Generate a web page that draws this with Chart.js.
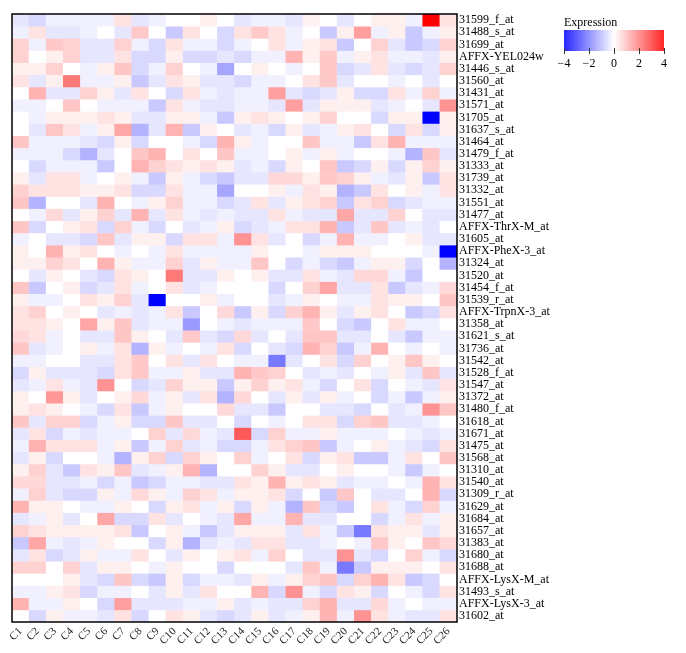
<!DOCTYPE html>
<html>
<head>
<meta charset="utf-8">
<script src="https://cdn.jsdelivr.net/npm/chart.js@4.4.1/dist/chart.umd.min.js"></script>
<style>
  body { margin: 0; background: #fff; }
  #wrap { width: 686px; height: 653px; position: relative; }
</style>
</head>
<body>
<div id="wrap"><canvas id="graph"></canvas></div>
<script>
// column names (samples)
const colNames = ['C1','C2','C3','C4','C5','C6','C7','C8','C9','C10','C11','C12','C13',
  'C14','C15','C16','C17','C18','C19','C20','C21','C22','C23','C24','C25','C26'];

// row names (probes), top to bottom
const rowNames = ['31599_f_at','31488_s_at','31699_at','AFFX-YEL024w','31446_s_at','31560_at',
  '31431_at','31571_at','31705_at','31637_s_at','31464_at','31479_f_at','31333_at','31739_at',
  '31332_at','31551_at','31477_at','AFFX-ThrX-M_at','31605_at','AFFX-PheX-3_at','31324_at',
  '31520_at','31454_f_at','31539_r_at','AFFX-TrpnX-3_at','31358_at','31621_s_at','31736_at',
  '31542_at','31528_f_at','31547_at','31372_at','31480_f_at','31618_at','31671_at','31475_at',
  '31568_at','31310_at','31540_at','31309_r_at','31629_at','31684_at','31657_at','31383_at',
  '31680_at','31688_at','AFFX-LysX-M_at','31493_s_at','AFFX-LysX-3_at','31602_at'];

// expression values, one row per probe, one value per column
const values = [
  [-0.4,-0.6,-0.24,-0.24,-0.24,-0.24,0.45,-0.4,-0.24,0,0,0.24,0,-0.4,-0.24,-0.24,-0.4,0.2,0,-0.4,0,0.24,0.24,-0.24,4,0.45],
  [-0.24,0.45,-0.4,-0.4,-0.24,0,-0.4,0.85,0,-0.85,0.45,0,-0.6,0.45,0.85,0.45,-0.24,0,-0.85,0.24,1.5,-0.24,0.24,-0.85,-0.24,0.24],
  [0.7,-0.24,0.85,0.7,-0.4,-0.4,0.7,-0.24,-0.6,0.45,-0.24,-0.24,-0.6,-0.24,0,0.45,-0.24,0.24,0.45,-0.85,0,0.7,-0.4,-0.85,-0.6,0.7],
  [0.7,0,0.24,0.7,-0.4,-0.4,0.45,-0.6,-0.6,0.24,-0.6,-0.6,-0.4,-0.6,-0.24,-0.24,1.2,0.24,0.85,-0.24,0.24,0.45,-0.24,-0.24,-0.4,0.24],
  [0.24,0.24,0.7,0,-0.24,0.24,0.9,-0.6,-0.24,0.7,0,-0.24,-1.4,0,0.24,0,-0.24,0,0.85,-0.6,-0.4,0.45,-0.4,-0.6,-0.4,0.7],
  [0.45,-0.4,0.24,2.1,-0.24,-0.24,0.24,-0.85,-0.4,0.45,0.24,-0.4,-0.4,-0.6,-0.24,-0.24,0,0.45,0.85,-0.4,0,0,-0.24,0,-0.4,0],
  [0,1.2,-0.4,-0.4,0.7,0.24,-0.4,0.45,0,-0.6,0.45,-0.24,-0.4,-0.24,-0.24,1.5,-0.4,-0.6,-0.4,0.24,-0.6,-0.6,0.45,-0.24,0.7,-0.24],
  [-0.24,-0.24,0,0.9,0,-0.24,-0.24,-0.24,-0.85,0.45,-0.24,-0.4,-0.4,-0.24,-0.24,-0.4,1.5,-0.4,0.24,0.24,0.24,-0.4,-0.24,0,-0.4,1.7],
  [0,-0.24,0.24,0.24,0.24,0.45,0.24,-0.4,-0.4,0.24,0.24,-0.24,-0.85,0.24,0.45,0.24,0,0.24,0.7,0,0,-0.6,0.24,0.24,-4,0.24],
  [0,-0.4,0.9,0.45,-0.24,0.24,1.4,-1.2,-0.4,1.2,-0.85,0.24,0,-0.4,-0.24,-0.6,0.24,-0.4,-0.24,0.24,0.45,0,-0.6,0.45,-0.6,0.24],
  [0.9,-0.24,-0.24,-0.24,-0.4,-0.6,0.24,-0.6,0,0,-0.24,-0.6,1.2,0.24,-0.24,0,0,0.9,-0.24,-0.24,-0.85,0.45,1.2,-0.24,-0.24,-0.24],
  [-0.24,-0.24,-0.24,-0.6,-1.2,-0.4,0,0.9,1.2,0,0.45,0,0.9,-0.24,-0.24,0,0.24,-0.24,0.24,-0.24,0,0,-0.24,-1.2,0.9,-0.4],
  [0,-0.6,-0.24,-0.24,-0.24,-0.85,0,1.2,0.7,0.45,0.24,0.45,0.24,-0.4,-0.24,-0.6,0.24,0,0.9,-0.85,-0.6,0.24,-0.6,0.24,0.7,0.24],
  [0.24,-0.4,0.45,0.45,-0.24,0,0.24,-0.24,-0.85,0.24,-0.24,-0.6,-0.85,-0.4,-0.4,0.6,0.6,0.24,0.85,0.7,0.24,-0.24,-0.4,0.24,-0.85,0.45],
  [0.7,0.45,0.45,0.45,0.24,0.24,0.45,-0.6,-0.6,0.45,-0.24,-0.24,-1.4,0,0,0.24,-0.24,0.45,0.24,-1.2,-0.85,0.45,0,0.24,-0.24,0.45],
  [0.9,-1.2,0,0,-0.4,1.2,0,-0.24,0.24,0.7,-0.24,-0.24,-0.6,-0.4,0.45,-0.4,0.24,0.45,0.7,-0.85,0.45,0.7,-0.6,-0.4,-0.24,-0.24],
  [0,-0.24,0.6,-0.4,0.24,0.7,-0.4,1.2,-0.4,0.45,-0.24,-0.4,-0.24,-0.4,-0.4,0.45,-0.24,-0.4,-0.4,1.4,-0.4,-0.4,0.7,0,-0.4,-0.4],
  [0.9,-0.6,0,0.24,0.45,-0.6,0.7,-0.24,-0.6,0,-0.4,-0.24,0.24,-0.6,-0.4,-0.24,0.45,0.45,1.2,-0.85,-0.4,0.9,-0.4,-0.24,-0.4,0],
  [-0.24,0,-0.4,-0.4,-0.6,0.9,-0.4,0.24,0.24,-0.6,0.45,0.45,-0.24,1.7,0.45,-0.4,0,-0.6,-0.24,1.2,-0.24,-0.24,0,0.24,-0.4,-0.4],
  [0.24,0,1.2,0.24,0.45,0,-0.24,0,-0.24,0.45,-0.24,-0.24,-0.24,-0.24,0.24,0,0,-0.24,0.24,0.24,0.24,0,0,0,-0.24,-4],
  [0.24,0.24,0.7,0.45,0,1.2,0.24,-0.24,-0.24,0.7,-0.4,0.24,-0.24,-0.24,0.9,0,-0.6,-0.24,-0.6,-0.85,-0.24,0.24,0.24,-0.6,0,-1.2],
  [0,-0.4,0.24,0,-0.4,-0.6,0.45,0.24,0,2.1,-0.4,-0.4,0.24,0,0.24,-0.4,-0.4,0.45,-0.24,-0.4,0.6,0.6,-0.24,-0.85,0,0],
  [0.9,-0.85,0,0.24,-0.6,-0.4,0.45,-0.24,0,0.45,-0.4,-0.24,0,0,0,-0.6,0,0.7,1.4,-0.4,-0.4,0.45,-0.85,-0.4,-0.24,0.6],
  [0.24,-0.24,-0.24,0,0.45,0.24,0.7,-0.4,-4,0,0,0.24,-0.24,0,0,-0.4,-0.24,0.24,0,-0.24,-0.24,0.45,0.24,0.24,0,0.9],
  [0.45,0.7,0,0.24,0,-0.4,-0.24,-0.4,-0.24,0.45,-0.85,0,0.6,-0.85,0.24,-0.6,0.7,1.2,0.24,-0.4,0.24,0.45,0,-0.85,-0.6,0.45],
  [0.45,0.45,0.24,0,1.4,0.24,0.9,-0.4,-0.24,-0.24,-1.6,0,-0.24,-0.4,-0.24,-0.24,-0.24,0.85,0,-0.6,-0.85,0,0.45,-0.24,-0.24,0],
  [0.6,0.45,-0.24,0,-0.4,-0.4,0.9,0.24,0,-0.4,0.85,-0.4,-0.6,0.6,-0.4,0,-0.4,0.9,0.9,-0.4,-0.4,0,-0.4,-0.85,-0.24,-0.24],
  [0.9,-0.4,-0.24,0,0.24,-0.24,0.45,-1.2,0.24,-0.24,0,-0.24,0.45,-0.6,0,-0.4,-0.6,1.2,0.7,-0.85,-0.24,1.2,0,-0.24,0,-0.24],
  [-0.24,-0.24,0,0,-0.4,-0.4,0.45,0.85,0,0.45,-0.4,0.45,0,-0.24,-0.24,-2.1,-0.4,0,0.45,-0.6,0.7,0,0.24,0.9,0.24,0],
  [-0.6,0.24,-0.4,-0.4,-0.4,-0.6,0.45,0.85,-0.24,-0.24,0.24,-0.4,-0.4,1.2,0.85,0.7,0,-0.4,-0.24,-0.4,0,-0.24,0.24,-0.4,0.9,-0.4],
  [-0.4,-0.24,0.45,-0.24,-0.4,1.7,0,-0.6,-0.4,0.7,0.24,0.24,-0.85,0.24,0.7,0.24,0.45,-0.24,-0.6,0,0.45,-0.6,0,-0.24,-0.4,0.45],
  [0.24,0,1.6,0.24,-0.4,0,0.24,0.6,-0.24,0.24,-0.4,0.45,-1.2,0.6,0,-0.4,0.24,-0.4,0.24,-0.24,0,-0.6,-0.24,-0.85,-0.24,0.24],
  [0.24,0.45,0.24,0,-0.24,-0.6,0.45,-0.85,-0.24,0.24,0,0,0.6,-0.4,-0.4,-0.85,0,0,-0.4,-0.4,-0.6,0,-0.4,-0.24,1.7,0.9],
  [0.9,-0.4,0.7,0.7,-0.6,-0.24,0.24,-0.6,-0.6,0.9,-0.4,-0.4,0,-0.6,0,-0.24,0,0.45,0.45,-0.6,0.7,0.9,-0.4,-0.4,-0.24,0],
  [-0.4,0.45,-0.6,-0.24,-0.4,-0.24,-0.24,0,0.7,-0.4,0.6,-0.24,-0.4,2.6,-0.6,0.7,-0.24,-0.24,0.24,-0.24,-0.24,-0.24,0,-0.24,-0.4,-0.24],
  [-0.24,1.2,0.45,0.45,0.45,-0.24,0.24,-0.85,-0.24,0.7,-0.4,-0.24,-0.6,-0.6,-0.24,0.45,0.7,0.9,-0.85,-0.24,0,0.24,-0.24,-0.4,-0.6,0.45],
  [-0.4,0.24,-0.6,0,0,-0.24,-1.2,0.24,0.7,-0.6,0.7,0.24,0,0.7,-0.24,0,0.45,-0.6,0.24,0.45,-0.85,-0.85,-0.24,0.45,0,0.9],
  [0.24,0.7,-0.4,-0.85,0.45,0.24,0.9,-0.4,-0.24,0.24,1.2,-1.2,0,0,0.7,0.24,-0.4,-0.4,0,0.24,0,0,-0.24,-0.85,-0.24,0],
  [0.6,0.6,-0.4,-0.4,-0.24,-0.6,-0.24,-0.85,-0.6,-0.24,-0.24,-0.4,-0.4,0.45,0.24,1.2,0.24,0.45,0.24,-0.4,-0.24,-0.24,0,-0.24,1.2,0.45],
  [-0.24,0.7,-0.4,-0.6,-0.6,0.24,-0.24,0.6,0.24,-0.24,0.7,0.45,-0.24,0.24,0.24,0.45,-0.6,0,-0.85,0.9,0,-0.4,-0.4,0,1.2,-0.6],
  [1.2,0.24,0.24,0,-0.24,-0.24,0.24,0,-0.6,0.24,0.45,-0.24,0.24,-0.6,0.24,-0.24,-1.2,0.9,-0.6,-0.85,0,0.45,-0.24,-0.6,0.7,-0.24],
  [-0.4,-0.24,0.24,-0.4,0,1.4,-0.6,-0.6,0.45,-0.4,0,-0.24,-0.4,1.4,-0.24,-0.24,1.2,-0.4,-0.4,0,0,-0.6,-0.24,0.45,-0.24,0.24],
  [0.7,0.45,0.24,0.24,0.24,0.24,0.45,-0.85,0,0.24,-0.24,-0.85,-0.4,0.24,0.24,0.24,-0.4,0.45,-0.24,-0.85,-2.1,0.45,0.24,0.24,-0.4,0.24],
  [-0.85,1.4,-0.24,-0.4,-0.24,0.24,0,0,-0.6,0.24,-1.2,-0.4,-0.24,-0.4,0.45,0.45,-0.4,-0.4,-0.24,0,-0.24,0.85,0.24,0,0.9,0.6],
  [-0.4,0.45,-0.6,-0.4,0.24,-0.24,-0.24,0.45,0,-0.4,0.24,0,0.24,0.45,-0.24,0.7,0,-0.4,-0.4,1.7,-0.4,-0.6,0,0.7,-0.24,-0.6],
  [0.7,0.7,0,0.7,-0.4,0.24,0.24,0,-0.24,0.24,0,0,-0.6,0,0,0,-0.4,0.9,-0.24,-2.1,-0.85,0.24,0.24,0.24,0,0.45],
  [0,0,0,0.24,-0.4,-0.6,0.9,-0.6,-0.85,0.24,-0.6,-0.24,-0.24,-0.4,0.24,-0.24,0.24,0.7,0.9,-0.6,0.7,1.2,0.45,-0.85,-0.6,0],
  [-0.24,-0.24,0.24,0.45,-0.6,-0.24,-0.24,0,-0.4,0.24,-0.4,0.45,0,0,1.2,-0.6,1.7,-0.24,-0.6,0.45,0.24,-0.6,0,-0.24,-0.6,0.45],
  [1.2,-0.24,-0.24,0.24,0,-0.6,1.5,-0.4,-0.4,-0.4,-0.24,-0.24,0.24,-0.4,-0.24,-0.4,-0.4,0.7,1.2,-0.4,-0.4,0.6,-0.24,0,-0.24,-0.24],
  [0,-0.6,0.24,-0.24,-0.24,-0.4,0.45,-0.6,0,0.45,0.24,-0.4,-0.6,-0.4,0.24,-0.4,-0.24,0.24,1.2,-0.24,1.7,0.45,-0.24,-0.4,-0.4,0.45]
];

// colour legend
const legendTicks = [-4, -2, 0, 2, 4];
const legendTitle = 'Expression';

function colorFor(v) {
    const t = Math.min(Math.abs(v), 4) / 4;
    const c = Math.round(255 * (1 - t));
    return v >= 0 ? `rgb(255,${c},${c})` : `rgb(${c},${c},255)`;
}

const serif = '"Liberation Serif", "DejaVu Serif", serif';

// one stacked bar segment (height 1) per cell, coloured by its value
const datasets = rowNames.map((name, r) => ({
    label: name,
    data: colNames.map(() => 1),
    backgroundColor: values[r].map(colorFor),
    borderWidth: 0,
    barPercentage: 1,
    categoryPercentage: 1,
}));

const framePlugin = {
    id: 'frame',
    afterDatasetsDraw(chart) {
        const {ctx, chartArea: a} = chart;
        ctx.save();
        ctx.strokeStyle = '#000';
        ctx.lineWidth = 1.5;
        ctx.strokeRect(a.left, a.top, a.right - a.left, a.bottom - a.top);
        ctx.restore();
    }
};

const legendPlugin = {
    id: 'colorLegend',
    afterDraw(chart) {
        const ctx = chart.ctx;
        const x0 = 564, x1 = 664, y0 = 30, y1 = 51;
        ctx.save();
        ctx.fillStyle = '#000';
        ctx.font = '12px ' + serif;
        ctx.textAlign = 'left';
        ctx.textBaseline = 'alphabetic';
        ctx.fillText(legendTitle, x0, 26);
        const lo = legendTicks[0], hi = legendTicks[legendTicks.length - 1];
        const grad = ctx.createLinearGradient(x0, 0, x1, 0);
        for (let v = lo; v <= hi; v += 0.5) {
            grad.addColorStop((v - lo) / (hi - lo), colorFor(v * 0.85));
        }
        ctx.fillStyle = grad;
        ctx.fillRect(x0, y0, x1 - x0, y1 - y0);
        ctx.strokeStyle = '#333';
        ctx.lineWidth = 1;
        ctx.textAlign = 'center';
        ctx.fillStyle = '#000';
        legendTicks.forEach(t => {
            const x = x0 + (t - lo) / (hi - lo) * (x1 - x0);
            ctx.beginPath();
            ctx.moveTo(Math.round(x) + 0.5, y1 - 3);
            ctx.lineTo(Math.round(x) + 0.5, y1 + 3);
            ctx.stroke();
            ctx.fillText(t < 0 ? '\u2212' + Math.abs(t) : String(t), x, 67);
        });
        ctx.restore();
    }
};

const graph = document.getElementById('graph').getContext('2d');
new Chart(graph, {
    type: 'bar',
    data: { labels: colNames, datasets: datasets },
    options: {
        responsive: true,
        maintainAspectRatio: false,
        animation: false,
        layout: { padding: { left: 12, top: 14, right: 0, bottom: 0 } },
        plugins: { legend: { display: false }, tooltip: { enabled: false } },
        scales: {
            x: {
                stacked: true,
                grid: { display: false, drawTicks: false },
                border: { display: false },
                ticks: {
                    autoSkip: false, maxRotation: 45, minRotation: 45, padding: 3,
                    color: '#222', font: { family: serif, size: 11 }
                },
                afterFit(scale) { scale.height = 31; }
            },
            y: {
                stacked: true,
                reverse: true,
                min: 0,
                max: rowNames.length,
                display: false
            },
            y2: {
                type: 'category',
                labels: rowNames,
                position: 'right',
                offset: true,
                grid: { display: false, drawTicks: false },
                border: { display: false },
                ticks: {
                    autoSkip: false, padding: 2,
                    color: '#000', font: { family: serif, size: 12 }
                },
                afterFit(scale) { scale.width = 229; }
            }
        }
    },
    plugins: [framePlugin, legendPlugin]
});
</script>
</body>
</html>
